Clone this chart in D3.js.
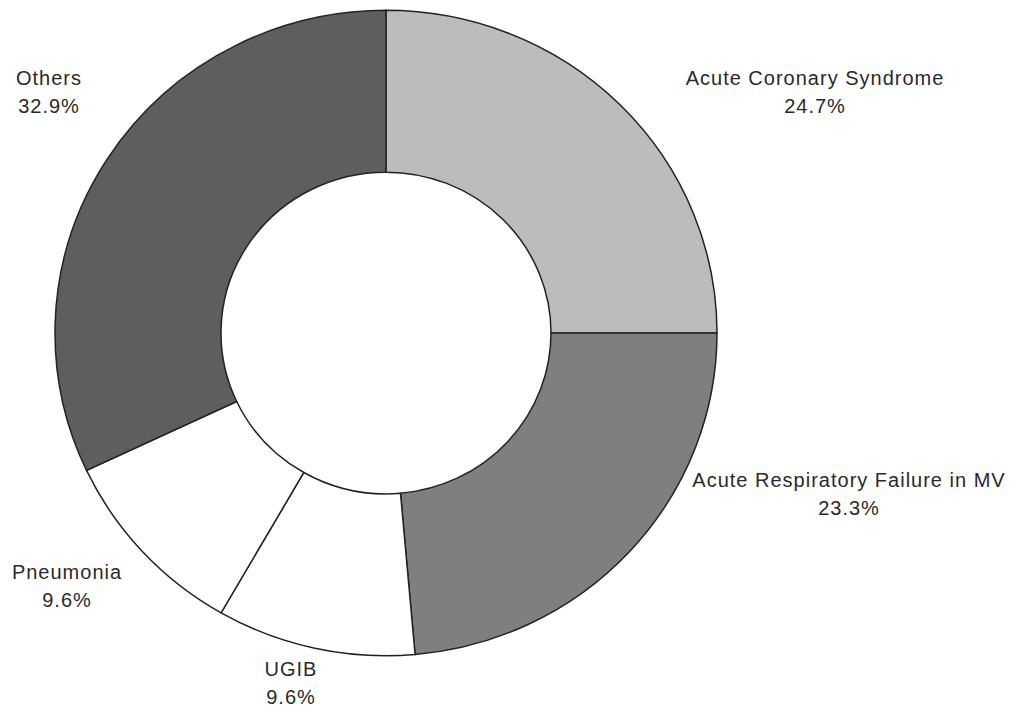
<!DOCTYPE html>
<html>
<head>
<meta charset="utf-8">
<script src="https://cdn.jsdelivr.net/npm/d3@7"></script>
<style>
  body { margin: 0; background: #fff; }
  text { font-family: "Liberation Sans", Arial, sans-serif; font-size: 20px; letter-spacing: 1px; fill: #2a2a2a; }
</style>
</head>
<body>
<svg></svg>
<script>
var categories = ["Acute Coronary Syndrome", "Acute Respiratory Failure in MV", "UGIB", "Pneumonia", "Others"];
// slice sizes as drawn (read from the slice edges), labels as printed
var shares = [25.0, 23.6, 9.7, 9.7, 32.0];
var shareLabels = ["24.7%", "23.3%", "9.6%", "9.6%", "32.9%"];

var screen = {width: 1017, height: 711};
var center = {x: 386, y: 333};
var radius = {outer: 331, inner: 165};
var squash = 0.975;

var colors = ["#bcbcbc", "#7f7f7f", "#ffffff", "#ffffff", "#5e5e5e"];
// label anchor points (centre of the two lines, first baseline)
var labelPos = [[815, 85], [849, 487], [291, 676], [67, 579], [49, 85]];

var svg = d3.select("svg")
  .attr("width", screen.width)
  .attr("height", screen.height);

var pie = d3.pie().sort(null).value(function(d){ return d; });
var arc = d3.arc().innerRadius(radius.inner).outerRadius(radius.outer);

var g = svg.append("g")
  .attr("transform", "translate(" + center.x + "," + center.y + ") scale(1," + squash + ")");

g.selectAll("path")
  .data(pie(shares))
  .enter()
  .append("path")
  .attr("d", arc)
  .attr("fill", function(d, i){ return colors[i]; })
  .attr("stroke", "#222")
  .attr("stroke-width", 1.5)
  .attr("vector-effect", "non-scaling-stroke");

var labels = svg.selectAll("g.label")
  .data(categories)
  .enter()
  .append("g")
  .attr("class", "label")
  .attr("transform", function(d, i){ return "translate(" + labelPos[i][0] + "," + labelPos[i][1] + ")"; });

labels.append("text")
  .attr("text-anchor", "middle")
  .text(function(d){ return d; });

labels.append("text")
  .attr("text-anchor", "middle")
  .attr("y", 28)
  .text(function(d, i){ return shareLabels[i]; });
</script>
</body>
</html>
